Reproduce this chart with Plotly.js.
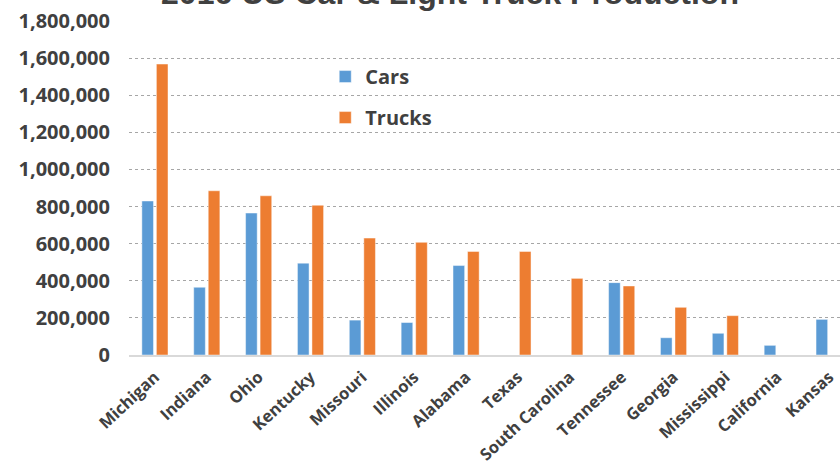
<!DOCTYPE html>
<html>
<head>
<meta charset="utf-8">
<script src="https://cdn.plot.ly/plotly-3.0.1.min.js"></script>
<style>
  html, body { margin: 0; padding: 0; background: #ffffff; overflow: hidden; }
  #chart { width: 840px; height: 464px; }
</style>
</head>
<body>
<div id="chart"></div>
<script>
const states = ["Michigan", "Indiana", "Ohio", "Kentucky", "Missouri", "Illinois", "Alabama",
  "Texas", "South Carolina", "Tennessee", "Georgia", "Mississippi", "California", "Kansas"];
const cars = [830000, 365000, 765000, 495000, 188000, 175000, 482000,
  0, 0, 390000, 93000, 117000, 52000, 192000];
const trucks = [1568000, 885000, 858000, 807000, 630000, 607000, 558000,
  558000, 413000, 372000, 257000, 212000, 0, 0];
const titleText = "2016 US Car & Light Truck Production";

const txtColor = "#404040";
const labelFont = { family: "Open Sans, sans-serif", size: 20, color: txtColor, weight: "bold" };

const data = [
  {
    type: "bar", name: "Cars", x: states, y: cars,
    marker: { color: "#5B9BD5", line: { color: "rgba(255,255,255,0.45)", width: 1 } },
    legendgroup: "c"
  },
  {
    type: "bar", name: "Trucks", x: states, y: trucks,
    marker: { color: "#ED7D31", line: { color: "rgba(255,255,255,0.45)", width: 1 } },
    legendgroup: "t"
  }
];

const layout = {
  width: 840, height: 464,
  margin: { l: 129, r: 0, t: 21, b: 109, pad: 0 },
  paper_bgcolor: "#ffffff", plot_bgcolor: "#ffffff",
  title: {
    text: titleText,
    font: { family: "Liberation Sans, Arial, sans-serif", size: 32, color: txtColor, weight: "bold" },
    x: 450 / 840, xanchor: "center", xref: "container",
    yref: "paper", y: 1, yanchor: "bottom", pad: { b: 17 }
  },
  barmode: "group", bargap: 0.44, bargroupgap: 0.2,
  showlegend: true,
  legend: {
    x: 0.276, xanchor: "left", y: 0.892, yanchor: "top",
    bgcolor: "rgba(0,0,0,0)",
    font: { family: "Open Sans, sans-serif", size: 20, color: txtColor, weight: "bold" },
    traceorder: "grouped", tracegroupgap: 12
  },
  xaxis: {
    type: "category", range: [-0.5, 13.21],
    tickangle: -43, tickfont: { family: "Open Sans, sans-serif", size: 16.5, color: txtColor, weight: "bold" },
    showline: true, linecolor: "#d9d9d9", linewidth: 2,
    showgrid: false, ticks: "", ticklabelstandoff: 4, fixedrange: true
  },
  yaxis: {
    range: [0, 1800000], dtick: 200000, tick0: 0, tickformat: ",d",
    tickfont: labelFont,
    showgrid: true, gridcolor: "#a6a6a6", griddash: "dot", gridwidth: 1,
    zeroline: false, showline: false, ticks: "", ticklabelstandoff: 18,
    fixedrange: true
  }
};

Plotly.newPlot("chart", data, layout, { displayModeBar: false, staticPlot: true });
</script>
</body>
</html>
